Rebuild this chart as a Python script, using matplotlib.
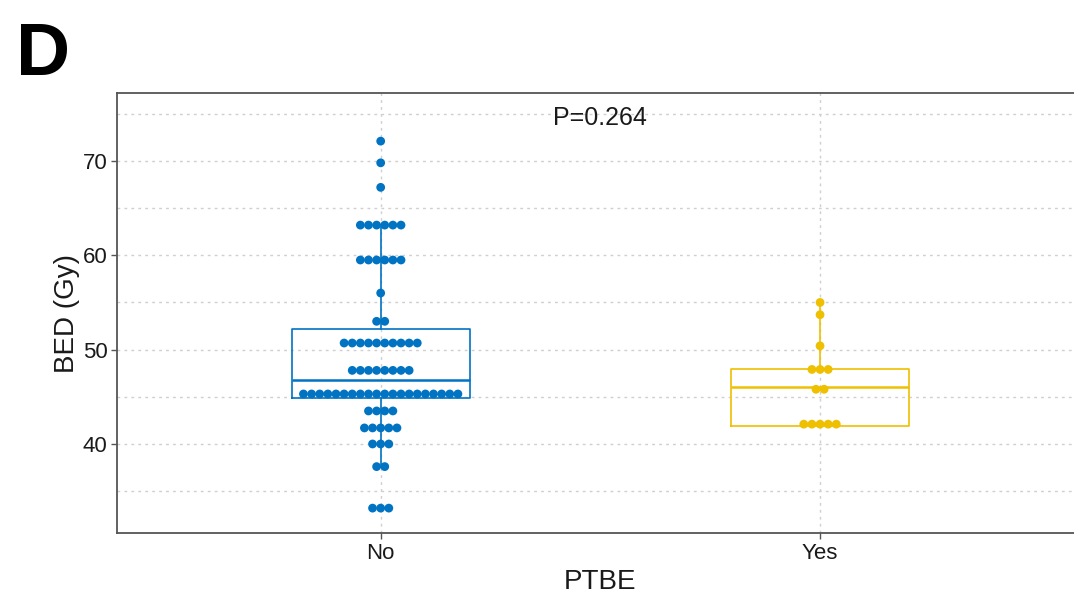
import matplotlib
matplotlib.use("Agg")
import matplotlib.pyplot as plt
import numpy as np

plt.rcParams['font.family'] = ['Liberation Sans', 'DejaVu Sans']

# BED values (Gy) per stacked row and number of dots in each row
no_bed = [72.1, 69.8, 67.2, 63.2, 59.5, 56.0, 53.0, 50.7, 47.8, 45.3, 43.5, 41.7, 40.0, 37.6, 33.2]
no_counts = [1, 1, 1, 6, 6, 1, 2, 10, 8, 20, 4, 5, 3, 2, 3]
yes_bed = [55.0, 53.7, 50.4, 47.9, 45.8, 42.1]
yes_counts = [1, 1, 1, 3, 2, 5]

# box summaries: whislo, q1, med, q3, whishi
no_box = [37.6, 44.9, 46.8, 52.2, 63.2]
yes_box = [41.9, 41.9, 46.0, 47.9, 55.0]

groups = ["No", "Yes"]
colors = ["#0073C2", "#EFC000"]
p_label = "P=0.264"

fig = plt.figure(figsize=(10.74, 6.04), dpi=100)
ax = fig.add_axes([0.109, 0.1175, 0.9, 0.7285])

stats = []
for g, b in zip(groups, [no_box, yes_box]):
    stats.append(dict(label=g, whislo=b[0], q1=b[1], med=b[2], q3=b[3], whishi=b[4]))

for i, (st, col) in enumerate(zip(stats, colors)):
    ax.bxp([st], positions=[i + 1], widths=0.405, showcaps=False, showfliers=False,
           boxprops=dict(color=col, lw=1.2), whiskerprops=dict(color=col, lw=1.2),
           medianprops=dict(color=col, lw=1.8), manage_ticks=False, zorder=3)

step = 0.0185
for i, (vals, cnts, col) in enumerate(zip([no_bed, yes_bed], [no_counts, yes_counts], colors)):
    xs, ys = [], []
    for v, n in zip(vals, cnts):
        offs = (np.arange(n) - (n - 1) / 2) * step
        xs.extend(i + 1 + offs)
        ys.extend([v] * n)
    ax.scatter(xs, ys, s=40, color=col, edgecolors='none', zorder=4)

ax.set_xlim(0.4, 2.6)
ax.set_ylim(30.56, 77.2)
ax.set_xticks([1, 2])
ax.set_xticklabels(groups)
ax.set_yticks([40, 50, 60, 70])
ax.set_yticks([35, 45, 55, 65, 75], minor=True)
ax.tick_params(axis='both', which='major', labelsize=16, length=4, width=1, color='#555555',
               labelcolor='#1a1a1a', pad=3)
ax.tick_params(axis='y', which='minor', length=0)
ax.grid(True, which='both', axis='y', ls=(0, (2, 3)), color='#cfcfcf', lw=1)
ax.grid(True, which='major', axis='x', ls=(0, (2, 3)), color='#cfcfcf', lw=1)
ax.set_axisbelow(True)
for s in ax.spines.values():
    s.set_color('#555555')
    s.set_linewidth(1.3)

ax.set_xlabel("PTBE", fontsize=20, color='#1a1a1a', labelpad=4)
ax.set_ylabel("BED (Gy)", fontsize=20, color='#1a1a1a', labelpad=2)
ax.text(1.5, 75.8, p_label, ha='center', va='top', fontsize=18, color='#1a1a1a')

fig.text(0.015, 0.876, "D", fontsize=54, fontweight='bold', ha='left', va='baseline')

fig.savefig("out.png", dpi=100)
